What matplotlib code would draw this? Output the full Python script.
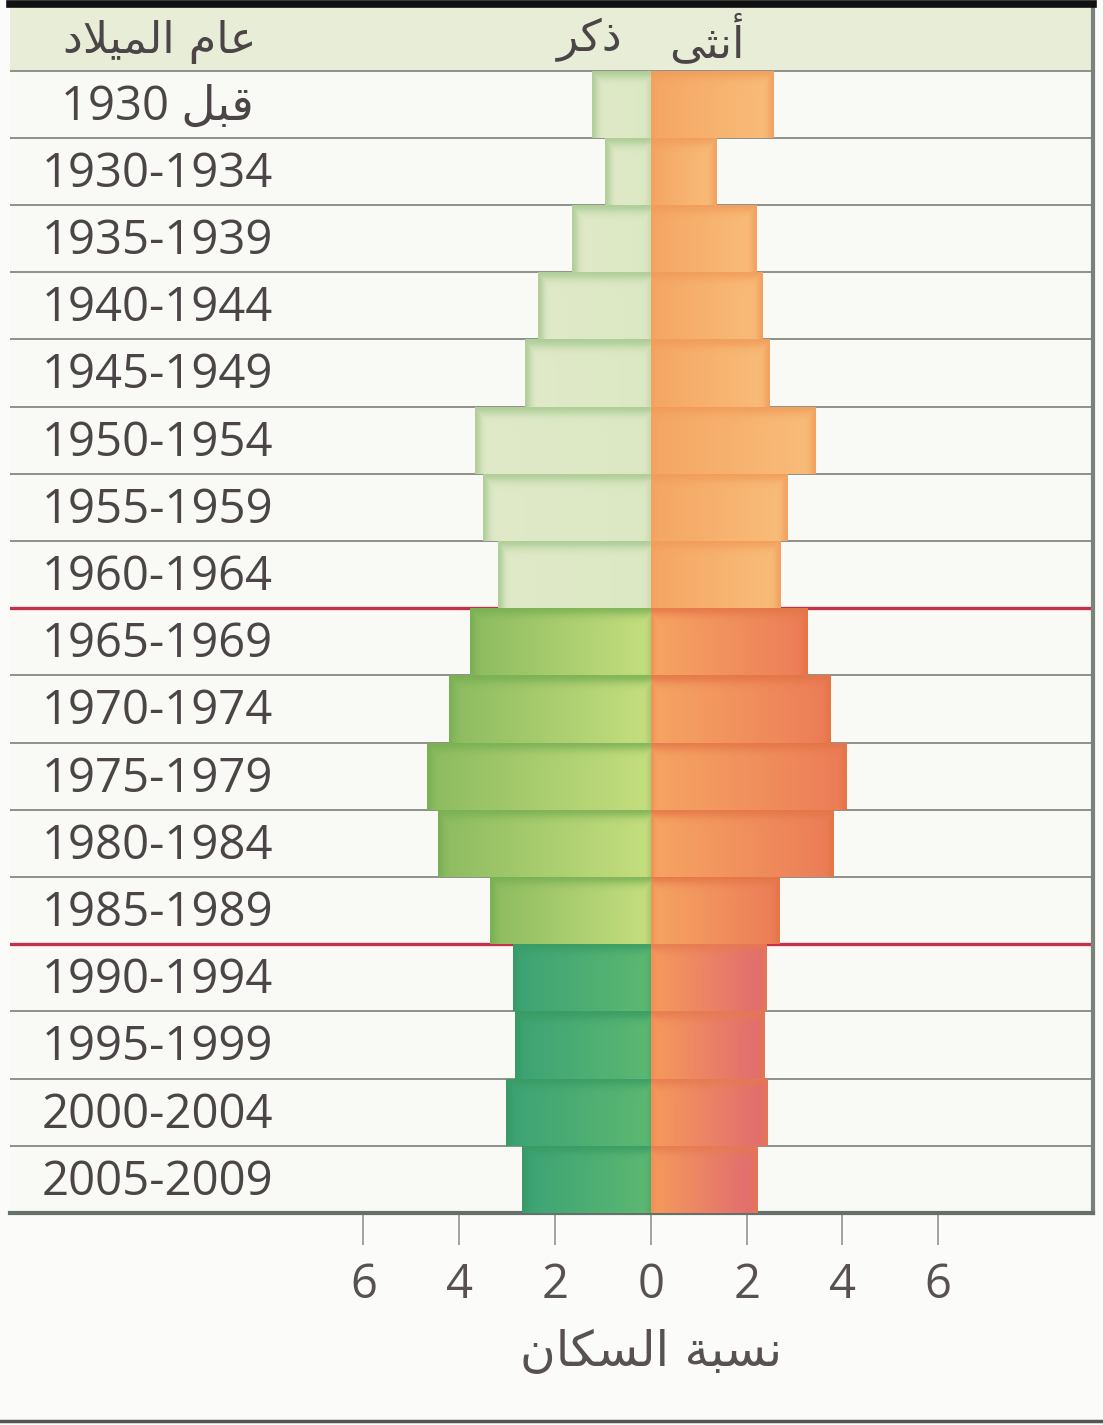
import numpy as np
import matplotlib
matplotlib.use("Agg")
import matplotlib.pyplot as plt
from matplotlib.colors import to_rgb
from matplotlib.lines import Line2D

# arabic strings written in visual order with presentation forms,
# matplotlib does no shaping / bidi on its own
header_year = "\uFEA9\uFEFC\uFEF4\uFEE4\uFEDF\uFE8D \uFEE1\uFE8E\uFECB"   # عام الميلاد
header_male = "\uFEAE\uFEDB\uFEAB"                                        # ذكر
header_female = "\uFEF0\uFE9C\uFEE7\uFE83"                                # أنثى
xlabel_txt = "\uFEE5\uFE8E\uFEDC\uFEB4\uFEDF\uFE8D \uFE94\uFE92\uFEB4\uFEE7"  # نسبة السكان
before_1930 = "1930 \uFEDE\uFE92\uFED7"                                   # قبل 1930

cohorts = [before_1930, "1930-1934", "1935-1939", "1940-1944", "1945-1949",
           "1950-1954", "1955-1959", "1960-1964", "1965-1969", "1970-1974",
           "1975-1979", "1980-1984", "1985-1989", "1990-1994", "1995-1999",
           "2000-2004", "2005-2009"]
male = [1.23, 0.96, 1.65, 2.36, 2.63, 3.67, 3.50, 3.20, 3.78, 4.21,
        4.68, 4.45, 3.36, 2.88, 2.84, 3.03, 2.69]
female = [2.55, 1.37, 2.21, 2.32, 2.47, 3.44, 2.84, 2.71, 3.26, 3.74,
          4.09, 3.80, 2.68, 2.42, 2.38, 2.44, 2.23]
group = [0] * 8 + [1] * 5 + [2] * 4
ticks = [-6, -4, -2, 0, 2, 4, 6]

# (colour at the zero line, colour at the outer end, edge/shadow colour)
male_cols = [("#dce8c4", "#e0e9c8", "#a3c78d"),
             ("#c6df7f", "#8cbb5f", "#76ad52"),
             ("#5db871", "#3ca275", "#389a62")]
female_cols = [("#f5a664", "#f9bd7a", "#f09a58"),
               ("#f6a563", "#ec7c57", "#e27446"),
               ("#f69b5b", "#e06a70", "#e57a50")]

TXT = "#4b4547"
NUM_FONT = ["Open Sans", "DejaVu Sans"]
PX_PER_UNIT = 47.9


def bar_image(length, inner, outer, edge, m=67):
    n = max(int(length * PX_PER_UNIT), 2)
    t = np.linspace(0, 1, n)
    d_out = (1 - t) * n          # pixels from the outer end
    d_in = t * n                 # pixels from the zero line
    ci = np.array(to_rgb(inner))
    co = np.array(to_rgb(outer))
    ce = np.array(to_rgb(edge))
    row = ci[None, :] * (1 - t[:, None]) + co[None, :] * t[:, None]
    img = np.repeat(row[None, :, :], m, axis=0)
    yy = np.arange(m)
    w_top = 0.8 * np.exp(-((yy / 8.0) ** 2))
    w_out = 0.75 * np.exp(-((d_out / 6.0) ** 2))
    w_in = 0.35 * np.exp(-((d_in / 4.0) ** 2))
    w = np.maximum(w_top[:, None], np.maximum(w_out, w_in)[None, :])
    img = img * (1 - w[:, :, None]) + ce[None, None, :] * w[:, :, None]
    return np.clip(img, 0, 1)


fig = plt.figure(figsize=(11.03, 14.25), dpi=100, facecolor="#fbfbf9")
H = 1425.0
W = 1103.0
ax = fig.add_axes([10 / W, 1 - 1213 / H, (1093 - 10) / W, (1213 - 4) / H])
ax.set_facecolor("#f9faf5")

x0, x1 = -13.38, 9.23
y_top, y_bot = -1.49, 16.5
n = len(cohorts)
ypos = np.arange(n)

# header band
ax.axhspan(y_top, -0.5, color="#e8edd7", zorder=0, lw=0)

# row separators
for b in np.arange(-0.5, n - 1, 1.0):
    if b in (7.5, 12.5):
        ax.axhline(b, color="#c4304a", lw=2.4, zorder=1)
    else:
        ax.axhline(b, color="#8e918a", lw=1.4, zorder=1)

for i in range(n):
    g = group[i]
    # male to the left
    bm = ax.barh(ypos[i], -male[i], height=1.0, left=0, color=male_cols[g][0],
                 lw=0, zorder=2)[0]
    im = ax.imshow(bar_image(male[i], *male_cols[g])[:, ::-1],
                   extent=(-male[i], 0, i + 0.5, i - 0.5),
                   origin="upper", aspect="auto", interpolation="bilinear", zorder=3)
    im.set_clip_path(bm)
    bf = ax.barh(ypos[i], female[i], height=1.0, left=0, color=female_cols[g][0],
                 lw=0, zorder=2)[0]
    im = ax.imshow(bar_image(female[i], *female_cols[g]),
                   extent=(0, female[i], i + 0.5, i - 0.5),
                   origin="upper", aspect="auto", interpolation="bilinear", zorder=3)
    im.set_clip_path(bf)

    ax.text(-10.3, i + 0.04, cohorts[i], ha="center", va="center", fontsize=34,
            color=TXT, family=NUM_FONT, zorder=5)

ax.set_xlim(x0, x1)
ax.set_ylim(y_bot, y_top)

# headers
ax.text(-10.25, -0.93, header_year, ha="center", va="center", fontsize=32,
        color=TXT, family="DejaVu Sans")
ax.text(-1.27, -0.95, header_male, ha="center", va="center", fontsize=32,
        color=TXT, family="DejaVu Sans")
ax.text(1.17, -0.95, header_female, ha="center", va="center", fontsize=32,
        color=TXT, family="DejaVu Sans")

# axis
ax.set_yticks([])
ax.set_xticks(ticks)
ax.set_xticklabels([str(abs(t)) for t in ticks], fontsize=34, color="#57524f",
                   family=NUM_FONT)
ax.tick_params(axis="x", direction="out", length=23, width=1.1, color="#8a8a86", pad=12)

ax.spines["left"].set_visible(False)
ax.spines["bottom"].set_color("#66706a")
ax.spines["bottom"].set_linewidth(3)
ax.spines["right"].set_color("#7a827c")
ax.spines["right"].set_linewidth(3)
ax.spines["top"].set_color("#111111")
ax.spines["top"].set_linewidth(5.5)

fig.text(651 / W, 1 - 1352 / H, xlabel_txt, ha="center", va="center", fontsize=35,
         color="#57524f", family="DejaVu Sans")

fig.add_artist(Line2D([0, 1], [1 - 1421 / H, 1 - 1421 / H], color="#555555", lw=2.5))

fig.savefig("out.png", dpi=100, facecolor=fig.get_facecolor())
